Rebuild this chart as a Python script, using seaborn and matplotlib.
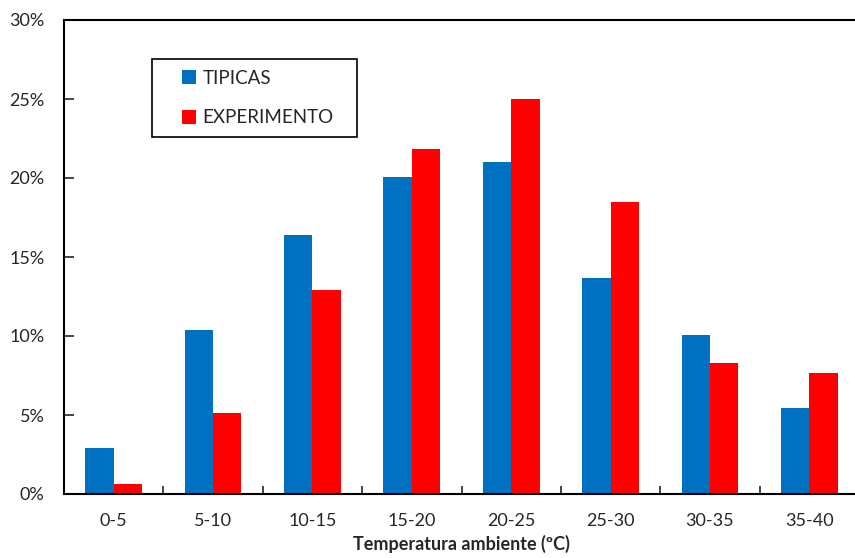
import pandas as pd
import seaborn as sns
import matplotlib.pyplot as plt
from matplotlib.patches import Rectangle
from matplotlib.ticker import FuncFormatter

rangos = ["0-5", "5-10", "10-15", "15-20", "20-25", "25-30", "30-35", "35-40"]
tipicas = [2.9, 10.4, 16.4, 20.05, 21.0, 13.7, 10.05, 5.45]
experimento = [0.65, 5.15, 12.9, 21.85, 25.0, 18.45, 8.3, 7.65]

df = pd.DataFrame({
    "rango": rangos * 2,
    "valor": tipicas + experimento,
    "serie": ["TIPICAS"] * len(rangos) + ["EXPERIMENTO"] * len(rangos),
})

sns.set_style("white")
plt.rcParams["font.family"] = ["Lato", "DejaVu Sans"]

fig = plt.figure(figsize=(8.55, 5.58), dpi=100)
ax = fig.add_axes([64 / 855, 64 / 558, 795 / 855, 474 / 558])

sns.barplot(data=df, x="rango", y="valor", hue="serie",
            palette=["#0070C0", "#FF0000"], width=0.57, linewidth=0,
            saturation=1, ax=ax)

ax.set_xlim(-0.5, 7.5)
ax.set_ylim(0, 30)
ax.set_yticks(range(0, 31, 5))
ax.yaxis.set_major_formatter(FuncFormatter(lambda v, p: f"{v:.0f}%"))
ax.set_xticks([i + 0.5 for i in range(7)], minor=True)
ax.tick_params(axis="x", which="major", length=0, pad=14, labelsize=13)
ax.tick_params(axis="x", which="minor", direction="in", length=6, width=1.2, bottom=True)
ax.tick_params(axis="y", direction="in", length=7, width=1.2, left=True, pad=14, labelsize=13)

for s in ax.spines.values():
    s.set_color("black")
    s.set_linewidth(1.5)

ax.set_ylabel("")
ax.set_xlabel("Temperatura ambiente (ºC)", fontsize=13, fontweight="bold", labelpad=4)

# legend box drawn separately so the padding matches the original
ax.add_patch(Rectangle((0.111, 0.753), 0.258, 0.165, transform=ax.transAxes,
                       fill=False, edgecolor="black", linewidth=1.2, zorder=5))
leg = ax.legend(loc="upper left", bbox_to_anchor=(0.148, 0.895), fontsize=13.5,
                frameon=False, handlelength=0.75, handleheight=0.75,
                handletextpad=0.35, labelspacing=1.2, borderpad=0,
                borderaxespad=0, title=None)

fig.savefig("out.png", dpi=100)
